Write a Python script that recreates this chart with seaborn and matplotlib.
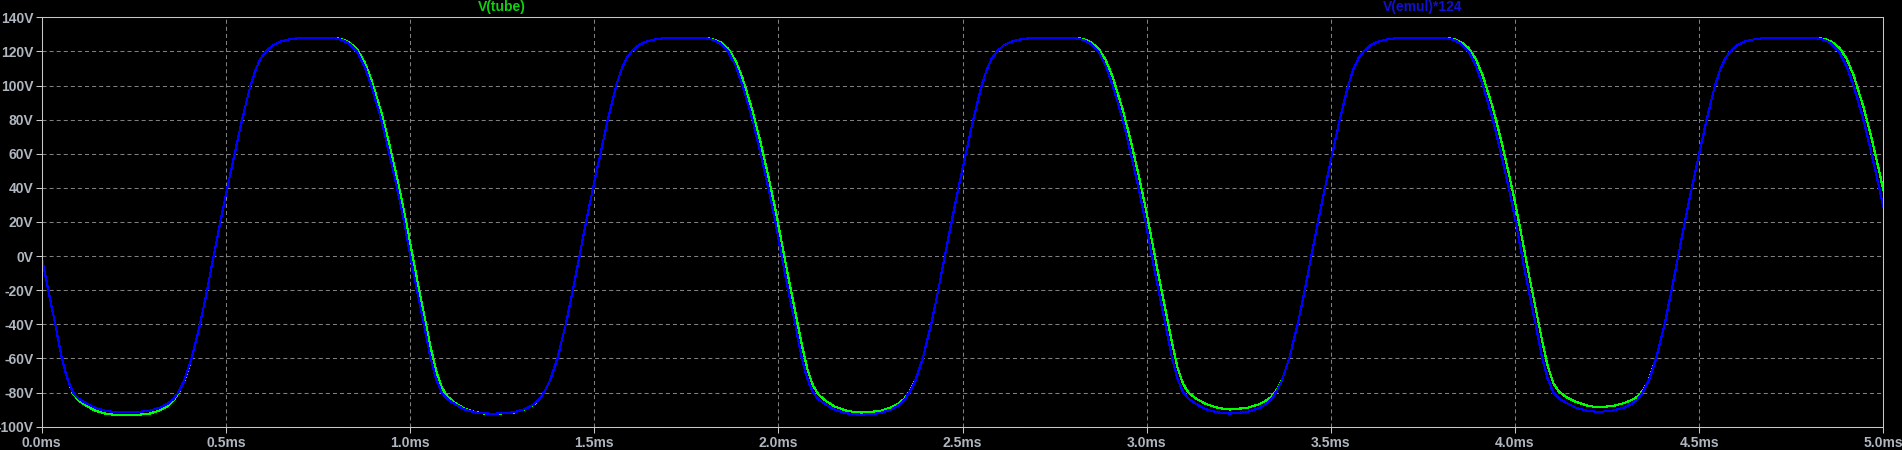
import numpy as np
import pandas as pd
import matplotlib
matplotlib.use('Agg')
import matplotlib.pyplot as plt
import seaborn as sns
from matplotlib.ticker import FuncFormatter, MultipleLocator

# time (ms) shared by both traces
t_ms = [
    0.000, 0.018, 0.037, 0.055, 0.070,
    0.085, 0.100, 0.120, 0.145, 0.175, 0.200, 0.229, 0.267, 0.292, 0.322, 0.342, 0.357, 0.372, 0.387, 0.407, 0.430, 0.449, 0.467,
    0.485, 0.504, 0.524, 0.544, 0.567, 0.582, 0.595, 0.609, 0.627, 0.647, 0.677, 0.717,
    0.786, 0.806, 0.821, 0.836, 0.856, 0.876, 0.895, 0.922, 0.944, 0.965, 0.984, 1.001, 1.019, 1.038, 1.056, 1.071,
    1.086, 1.101, 1.121, 1.146, 1.176, 1.201, 1.226, 1.260, 1.285, 1.315, 1.335, 1.350, 1.365, 1.380, 1.400, 1.423, 1.442, 1.460,
    1.478, 1.497, 1.517, 1.537, 1.560, 1.575, 1.588, 1.602, 1.620, 1.640, 1.670, 1.710,
    1.794, 1.814, 1.829, 1.844, 1.864, 1.884, 1.903, 1.930, 1.952, 1.973, 1.992, 2.009, 2.027, 2.046, 2.064, 2.079,
    2.094, 2.109, 2.129, 2.154, 2.184, 2.209, 2.226, 2.252, 2.277, 2.307, 2.327, 2.342, 2.357, 2.372, 2.392, 2.415, 2.434, 2.452,
    2.470, 2.489, 2.509, 2.529, 2.552, 2.567, 2.580, 2.594, 2.612, 2.632, 2.662, 2.702,
    2.799, 2.819, 2.834, 2.849, 2.869, 2.889, 2.908, 2.935, 2.957, 2.978, 2.997, 3.014, 3.032, 3.051, 3.069, 3.084,
    3.099, 3.114, 3.134, 3.159, 3.189, 3.214, 3.226, 3.247, 3.272, 3.302, 3.322, 3.337, 3.352, 3.367, 3.387, 3.410, 3.429, 3.447,
    3.465, 3.484, 3.504, 3.524, 3.547, 3.562, 3.575, 3.589, 3.607, 3.627, 3.657, 3.697,
    3.804, 3.824, 3.839, 3.854, 3.874, 3.894, 3.913, 3.940, 3.962, 3.983, 4.002, 4.019, 4.037, 4.056, 4.074, 4.089,
    4.104, 4.119, 4.139, 4.164, 4.194, 4.219, 4.231, 4.243, 4.268, 4.298, 4.318, 4.333, 4.348, 4.363, 4.383, 4.406, 4.425, 4.443,
    4.461, 4.480, 4.500, 4.520, 4.543, 4.558, 4.571, 4.585, 4.603, 4.623, 4.653, 4.693,
    4.810, 4.830, 4.845, 4.860, 4.880, 4.900, 4.919, 4.946, 4.968, 4.989, 5.000,
]

# V(tube), volts
v_tube = [
    0, -20, -40, -60, -72,
    -80.5, -84.5, -87.6, -90.6, -92.5, -93.1, -93.3, -92.9, -92.4, -90.4, -87.9, -85.0, -80.0, -73.2, -60, -40, -20, 0,
    20, 40, 60, 80, 100, 110, 116, 120, 123.5, 125.7, 127.3, 128,
    128, 127.5, 126.6, 125.1, 121.3, 114.0, 103.6, 84.4, 65.5, 45.7, 26.3, 7.1, -13.3, -33.7, -53.3, -67.2,
    -76.8, -82.2, -85.9, -89.2, -91.4, -92.3, -92.5, -92.1, -91.6, -89.5, -87.1, -84.3, -79.5, -73, -60, -40, -20, 0,
    20, 40, 60, 80, 100, 110, 116, 120, 123.5, 125.7, 127.3, 128,
    128, 127.5, 126.7, 125.2, 121.5, 114.5, 104.2, 85.2, 66.4, 46.7, 27.4, 8.2, -12.2, -32.6, -52.2, -66.4,
    -75.9, -81.2, -84.9, -88.3, -90.5, -91.5, -91.7, -91.3, -90.7, -88.7, -86.3, -83.6, -79.1, -72.9, -60, -40, -20, 0,
    20, 40, 60, 80, 100, 110, 116, 120, 123.5, 125.7, 127.3, 128,
    128, 127.6, 126.8, 125.3, 121.7, 114.9, 104.8, 85.9, 67.3, 47.6, 28.4, 9.4, -11.1, -31.6, -51.1, -65.6,
    -75.0, -80.2, -83.5, -86.5, -88.7, -89.7, -89.9, -89.5, -89.0, -87.1, -85.0, -82.8, -78.8, -72.8, -60, -40, -20, 0,
    20, 40, 60, 80, 100, 110, 116, 120, 123.5, 125.7, 127.3, 128,
    128, 127.6, 126.9, 125.4, 121.9, 115.3, 105.4, 86.7, 68.2, 48.6, 29.5, 10.6, -10.0, -30.5, -50.0, -64.8,
    -74.4, -79.4, -82.6, -85.3, -87.5, -88.5, -88.7, -88.3, -87.8, -86.0, -84.2, -82.3, -78.7, -72.7, -60, -40, -20, 0,
    20, 40, 60, 80, 100, 110, 116, 120, 123.5, 125.7, 127.3, 128,
    128, 127.7, 126.9, 125.6, 122.2, 115.8, 106.1, 87.4, 69.1, 49.5, 38.5,
]

# V(emul)*124, volts
v_emul = [
    0, -20, -40, -60, -72,
    -80, -83.5, -86.2, -89.0, -90.8, -91.4, -91.6, -91.2, -90.7, -88.8, -86.5, -84.0, -79.5, -73, -60, -40, -20, 0,
    20, 40, 60, 80, 100, 110, 116, 120, 123.5, 125.7, 127.3, 128,
    128, 127.3, 126.2, 124.3, 120, 111.5, 100, 80, 60, 40, 20, 0, -20, -40, -60, -72,
    -80, -83.7, -86.7, -89.7, -91.6, -92.2, -92.4, -92.0, -91.5, -89.4, -87.0, -84.2, -79.5, -73, -60, -40, -20, 0,
    20, 40, 60, 80, 100, 110, 116, 120, 123.5, 125.7, 127.3, 128,
    128, 127.3, 126.2, 124.3, 120, 111.5, 100, 80, 60, 40, 20, 0, -20, -40, -60, -72,
    -80, -83.9, -87.0, -90.2, -92.1, -92.8, -93.0, -92.6, -92.0, -89.9, -87.3, -84.4, -79.5, -73, -60, -40, -20, 0,
    20, 40, 60, 80, 100, 110, 116, 120, 123.5, 125.7, 127.3, 128,
    128, 127.3, 126.2, 124.3, 120, 111.5, 100, 80, 60, 40, 20, 0, -20, -40, -60, -72,
    -80, -83.7, -86.6, -89.6, -91.5, -92.1, -92.3, -91.9, -91.4, -89.4, -86.9, -84.2, -79.5, -73, -60, -40, -20, 0,
    20, 40, 60, 80, 100, 110, 116, 120, 123.5, 125.7, 127.3, 128,
    128, 127.3, 126.2, 124.3, 120, 111.5, 100, 80, 60, 40, 20, 0, -20, -40, -60, -72,
    -80, -83.4, -86.1, -88.8, -90.6, -91.2, -91.4, -91.0, -90.5, -88.6, -86.4, -83.9, -79.5, -73, -60, -40, -20, 0,
    20, 40, 60, 80, 100, 110, 116, 120, 123.5, 125.7, 127.3, 128,
    128, 127.3, 126.2, 124.3, 120, 111.5, 100, 80, 60, 40, 28.4,
]

trace_names = ['V(tube)', 'V(emul)*124']

sns.set_style('dark')
plt.rcParams['font.family'] = ['Liberation Sans', 'DejaVu Sans']
plt.rcParams['font.weight'] = 'bold'
plt.rcParams['lines.scale_dashes'] = False

df = pd.DataFrame({'t': t_ms, 'tube': v_tube, 'emul': v_emul})

fig = plt.figure(figsize=(19.02, 4.5), dpi=100, facecolor='black')
ax = fig.add_axes([0.0219, 0.0518, 0.9683, 0.9098])
ax.set_facecolor('black')

sns.lineplot(data=df, x='t', y='tube', color='#00ff00', lw=0.8, sort=False, estimator=None,
             antialiased=False, ax=ax)
sns.lineplot(data=df, x='t', y='emul', color='#0000ff', lw=0.8, sort=False, estimator=None,
             antialiased=False, ax=ax)

ax.set_xlim(0, 5)
ax.set_ylim(-100, 140)
ax.xaxis.set_major_locator(MultipleLocator(0.5))
ax.yaxis.set_major_locator(MultipleLocator(20))
ax.xaxis.set_major_formatter(FuncFormatter(lambda v, p: f'{v:.1f}ms'))
ax.yaxis.set_major_formatter(FuncFormatter(lambda v, p: f'{v:.0f}V'))
ax.set_xlabel('')
ax.set_ylabel('')

ax.set_axisbelow(True)
ax.grid(True, color='#808080', linestyle=(0, (2.9, 2.2)), linewidth=0.75)
ax.tick_params(axis='both', colors='#c8c8c8', labelcolor='#b0b6c0', length=4.3, width=0.75,
               labelsize=10, direction='out')
ax.tick_params(axis='y', pad=1.5)
ax.tick_params(axis='x', pad=2.2)
ax.tick_params(bottom=True, left=True)
for s in ax.spines.values():
    s.set_color('#c8c8c8')
    s.set_linewidth(0.75)

fig.text(0.0219 + 0.9683 * 0.25, 1 - 7.5 / 450, trace_names[0], color='#10d010',
         ha='center', va='center', fontsize=10, fontweight='bold')
fig.text(0.0219 + 0.9683 * 0.75, 1 - 7.5 / 450, trace_names[1], color='#1010d0',
         ha='center', va='center', fontsize=10, fontweight='bold')

fig.savefig('out.png', dpi=100, facecolor='black')
